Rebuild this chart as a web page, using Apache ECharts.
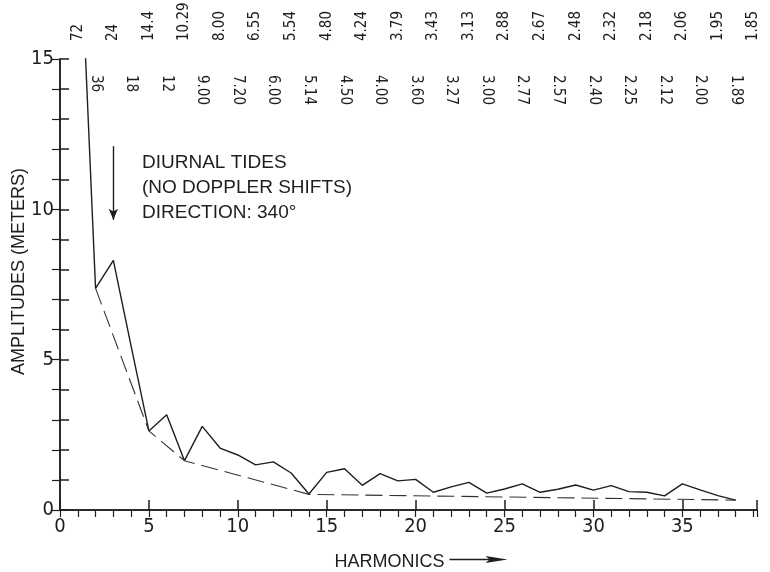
<!DOCTYPE html>
<html>
<head>
<meta charset="utf-8">
<script src="https://cdn.jsdelivr.net/npm/echarts@6/dist/echarts.min.js"></script>
<style>
  html, body { margin: 0; padding: 0; background: #fff; }
  #chart { width: 770px; height: 572px; }
</style>
</head>
<body>
<div id="chart"></div>
<script>
// harmonic number and amplitude (meters)
var harmonics = [1, 2, 3, 4, 5, 6, 7, 8, 9, 10, 11, 12, 13, 14, 15, 16, 17, 18, 19,
  20, 21, 22, 23, 24, 25, 26, 27, 28, 29, 30, 31, 32, 33, 34, 35, 36, 37, 38];
var amplitudes = [21.0, 7.37, 8.3, 5.45, 2.63, 3.17, 1.64, 2.78, 2.06, 1.83, 1.5, 1.6, 1.23, 0.53,
  1.25, 1.37, 0.82, 1.21, 0.97, 1.02, 0.59, 0.77, 0.92, 0.56, 0.7, 0.87, 0.59, 0.69,
  0.83, 0.66, 0.81, 0.61, 0.59, 0.47, 0.87, 0.67, 0.48, 0.33];

// dashed lower envelope
var envHarmonics = [2, 5, 7, 14, 38];
var envAmplitudes = [7.37, 2.63, 1.64, 0.52, 0.33];

// period in hours (72 / n) shown on the top axis, n = 1..39
var periods = ['72', '36', '24', '18', '14.4', '12', '10.29', '9.00', '8.00', '7.20',
  '6.55', '6.00', '5.54', '5.14', '4.80', '4.50', '4.24', '4.00', '3.79', '3.60',
  '3.43', '3.27', '3.13', '3.00', '2.88', '2.77', '2.67', '2.57', '2.48', '2.40',
  '2.32', '2.25', '2.18', '2.12', '2.06', '2.00', '1.95', '1.89', '1.85'];

// annotation arrow (harmonic, amplitude)
var arrowFrom = [3, 12.1];
var arrowTo = [3, 9.65];

var ink = '#1e1e1e';
var font = "'Liberation Sans', Arial, sans-serif";
var narrow = "'Liberation Sans Narrow', 'DejaVu Sans Condensed', 'Liberation Sans', sans-serif";

function pairs(xs, ys) {
  var out = [];
  for (var i = 0; i < xs.length; i++) out.push([xs[i], ys[i]]);
  return out;
}

function periodLabel(odd) {
  return function (v) {
    if (Math.round(v) !== v || v < 1 || v > periods.length) return '';
    if ((v % 2 === 1) !== odd) return '';
    return periods[v - 1];
  };
}

var chart = echarts.init(document.getElementById('chart'));

var topAxisBase = {
  type: 'value',
  position: 'top',
  min: 0,
  max: 39.2,
  interval: 1,
  splitLine: { show: false }
};

var option = {
  backgroundColor: '#fff',
  animation: false,
  grid: { left: 60, right: 13, top: 59, bottom: 62, containLabel: false, outerBoundsMode: 'none' },
  xAxis: [
    {
      type: 'value',
      position: 'bottom',
      min: 0,
      max: 39.2,
      interval: 5,
      name: 'HARMONICS',
      nameLocation: 'middle',
      nameGap: 43,
      nameMoveOverlap: false,
      nameTextStyle: { fontFamily: font, fontSize: 18, color: ink, padding: [0, 38, 0, 0] },
      axisLine: { lineStyle: { color: ink, width: 1.5 } },
      axisTick: { inside: true, length: 10, lineStyle: { color: ink, width: 1.5 } },
      axisLabel: {
        margin: 7, fontFamily: narrow, fontSize: 20, color: ink,
        formatter: function (v) { return v % 5 === 0 ? String(v) : ''; }
      },
      splitLine: { show: false }
    },
    Object.assign({}, topAxisBase, {
      axisLine: { lineStyle: { color: ink, width: 1.5 } },
      axisTick: { inside: true, length: 7, lineStyle: { color: ink, width: 1.2 } },
      axisLabel: {
        rotate: 90, margin: 18, fontFamily: narrow, fontSize: 15, color: ink,
        formatter: periodLabel(true)
      }
    }),
    Object.assign({}, topAxisBase, {
      axisLine: { show: false },
      axisTick: { show: false },
      axisLabel: {
        inside: true, rotate: 90, margin: 16, fontFamily: narrow, fontSize: 15, color: ink,
        formatter: periodLabel(false)
      }
    })
  ],
  yAxis: [
    {
      type: 'value',
      position: 'left',
      min: 0,
      max: 15,
      interval: 1,
      name: 'AMPLITUDES (METERS)',
      nameLocation: 'middle',
      nameGap: 32,
      nameMoveOverlap: false,
      nameTextStyle: { fontFamily: font, fontSize: 18, color: ink, padding: [0, 0, 0, 26] },
      axisLine: { lineStyle: { color: ink, width: 1.5 } },
      axisTick: { inside: true, length: 9, lineStyle: { color: ink, width: 1.5 } },
      axisLabel: {
        margin: 6, fontFamily: narrow, fontSize: 20, color: ink,
        formatter: function (v) { return v % 5 === 0 ? String(v) : ''; }
      },
      splitLine: { show: false }
    },
    {
      type: 'value',
      position: 'right',
      min: 0,
      max: 15,
      interval: 1,
      axisLine: { show: true, lineStyle: { color: ink, width: 1.5 } },
      axisTick: { show: true, inside: true, length: 8, lineStyle: { color: ink, width: 1.2 } },
      axisLabel: { show: false },
      splitLine: { show: false }
    }
  ],
  series: [
    {
      name: 'amplitude',
      type: 'line',
      data: pairs(harmonics, amplitudes),
      symbol: 'none',
      clip: true,
      lineStyle: { color: ink, width: 1.4 },
      markLine: {
        silent: true,
        symbol: ['none', 'arrow'],
        symbolSize: [7, 11],
        label: { show: false },
        lineStyle: { color: ink, width: 1.4, type: 'solid' },
        data: [[{ coord: arrowFrom }, { coord: arrowTo }]]
      }
    },
    {
      name: 'envelope',
      type: 'line',
      data: pairs(envHarmonics, envAmplitudes),
      symbol: 'none',
      lineStyle: { color: '#333', width: 1.1, type: [17, 7] }
    }
  ],
  graphic: [
    {
      type: 'text',
      left: 142,
      top: 150,
      style: {
        text: 'DIURNAL TIDES\n(NO DOPPLER SHIFTS)\nDIRECTION: 340\u00b0',
        fontFamily: font,
        fontSize: 19,
        lineHeight: 25,
        fill: ink
      }
    },
    {
      type: 'group',
      left: 447,
      top: 556,
      children: [
        { type: 'line', shape: { x1: 0, y1: 4, x2: 40, y2: 4 }, style: { stroke: ink, lineWidth: 1.5 } },
        { type: 'polygon', shape: { points: [[36, 0.5], [58, 4], [36, 7.5], [40, 4]] }, style: { fill: ink } }
      ]
    }
  ]
};

chart.setOption(option);
window.onresize = chart.resize;
</script>
</body>
</html>
